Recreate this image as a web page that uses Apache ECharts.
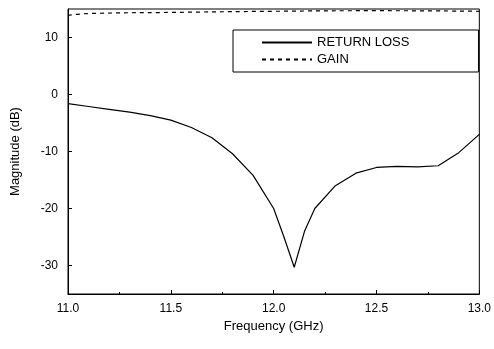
<!DOCTYPE html>
<html>
<head>
<meta charset="utf-8">
<script src="https://cdn.jsdelivr.net/npm/echarts@6/dist/echarts.min.js"></script>
<style>
    html, body { margin: 0; padding: 0; background: #fff; }
    #chart { width: 494px; height: 349px; }
</style>
</head>
<body>
<div id="chart"></div>
<script>
    // 频率 (GHz) 与回波损耗 (dB)
    const freqRL = [11.0, 11.1, 11.2, 11.3, 11.4, 11.5, 11.6, 11.7, 11.8, 11.9, 12.0, 12.05, 12.1, 12.15, 12.2, 12.3, 12.4, 12.5, 12.6, 12.7, 12.8, 12.9, 13.0];
    const returnLoss = [-1.6, -2.1, -2.6, -3.1, -3.7, -4.5, -5.8, -7.6, -10.4, -14.2, -20, -25, -30.3, -24, -20, -16, -13.8, -12.8, -12.6, -12.7, -12.5, -10.2, -7];
    // 增益
    const freqGain = [11.0, 11.1, 11.5, 12.0, 12.5, 13.0];
    const gain = [13.9, 14.2, 14.4, 14.6, 14.7, 14.6];
    const yTicks = [-30, -20, -10, 0, 10];

    const font = 'Liberation Sans, Arial, sans-serif';
    const chart = echarts.init(document.getElementById('chart'));
    chart.setOption({
        animation: false,
        grid: {
            left: 68, right: 14, top: 9, bottom: 55,
            show: true,
            borderColor: '#000',
            borderWidth: 1
        },
        legend: {
            orient: 'vertical',
            left: 233,
            top: 30,
            borderColor: '#000',
            borderWidth: 1,
            padding: [6, 69, 6, 28],
            itemWidth: 50,
            itemHeight: 10,
            itemGap: 4,
            itemStyle: { opacity: 0 },
            textStyle: { fontFamily: font, fontSize: 13, color: '#000' },
            data: ['RETURN LOSS', 'GAIN']
        },
        xAxis: {
            type: 'value',
            min: 11, max: 13, interval: 0.5,
            name: 'Frequency (GHz)',
            nameLocation: 'middle',
            nameGap: 26,
            nameTextStyle: { fontFamily: font, fontSize: 13, color: '#000' },
            axisLine: { onZero: false, lineStyle: { color: '#000' } },
            axisTick: { inside: true, length: 4, lineStyle: { color: '#000' } },
            minorTick: { show: true, splitNumber: 2, length: 2, lineStyle: { color: '#000' } },
            splitLine: { show: false },
            axisLabel: {
                fontFamily: font, fontSize: 12, color: '#000', margin: 9,
                formatter: v => v.toFixed(1)
            }
        },
        yAxis: {
            type: 'value',
            min: -35, max: 15,
            name: 'Magnitude (dB)',
            nameLocation: 'middle',
            nameGap: 46,
            nameTextStyle: { fontFamily: font, fontSize: 13, color: '#000' },
            axisLine: { show: true, onZero: false, lineStyle: { color: '#000' } },
            axisTick: { show: true, inside: true, length: 4, customValues: yTicks, lineStyle: { color: '#000' } },
            splitLine: { show: false },
            axisLabel: { fontFamily: font, fontSize: 12, color: '#000', margin: 10, customValues: yTicks }
        },
        series: [
            {
                name: 'RETURN LOSS',
                type: 'line',
                symbol: 'none',
                data: freqRL.map((f, i) => [f, returnLoss[i]]),
                lineStyle: { color: '#000', width: 1.2 },
                itemStyle: { color: '#000' }
            },
            {
                name: 'GAIN',
                type: 'line',
                symbol: 'none',
                smooth: true,
                data: freqGain.map((f, i) => [f, gain[i]]),
                lineStyle: { color: '#000', width: 1.2, type: [4, 4] },
                itemStyle: { color: '#000' }
            }
        ]
    });
</script>
</body>
</html>
